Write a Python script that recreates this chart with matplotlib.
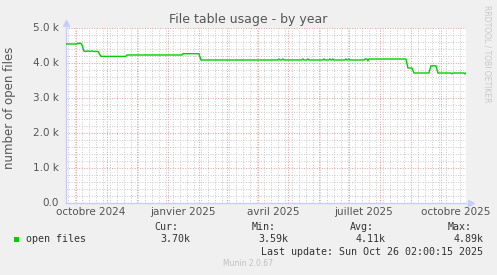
import matplotlib
matplotlib.use('Agg')
import matplotlib.pyplot as plt
from matplotlib.patches import Rectangle
import pandas as pd

# --- data (breakpoints of the daily series) ---
dates = ['2024-09-21', '2024-10-02', '2024-10-03', '2024-10-04', '2024-10-05', '2024-10-06',
         '2024-10-07', '2024-10-09', '2024-10-11', '2024-10-13', '2024-10-15', '2024-10-17',
         '2024-10-19', '2024-10-23', '2024-10-26', '2024-11-20', '2024-11-21', '2025-01-15',
         '2025-01-16', '2025-02-01', '2025-02-03',
         '2025-04-21', '2025-04-22', '2025-04-23',
         '2025-04-25', '2025-04-26', '2025-04-27',
         '2025-05-15', '2025-05-16', '2025-05-17',
         '2025-05-20', '2025-05-21', '2025-05-22',
         '2025-06-05', '2025-06-06', '2025-06-07',
         '2025-06-11', '2025-06-12', '2025-06-13',
         '2025-06-14', '2025-06-15', '2025-06-16',
         '2025-06-27', '2025-06-28', '2025-06-29',
         '2025-06-30', '2025-07-01', '2025-07-02',
         '2025-07-16', '2025-07-17', '2025-07-19', '2025-07-20', '2025-07-21',
         '2025-08-27', '2025-08-29', '2025-09-02', '2025-09-04', '2025-09-19', '2025-09-21',
         '2025-09-26', '2025-09-28', '2025-10-11', '2025-10-12', '2025-10-13',
         '2025-10-24', '2025-10-25', '2025-10-26']
open_files = [4543, 4543, 4570, 4550, 4570, 4560,
              4520, 4340, 4330, 4345, 4330, 4345,
              4330, 4331, 4189, 4189, 4229, 4229,
              4266, 4266, 4086,
              4086, 4115, 4086,
              4086, 4115, 4086,
              4086, 4115, 4086,
              4086, 4115, 4086,
              4086, 4115, 4086,
              4086, 4115, 4086,
              4086, 4115, 4086,
              4086, 4115, 4086,
              4086, 4115, 4086,
              4086, 4114, 4114, 4060, 4114,
              4114, 3857, 3857, 3714, 3714, 3920,
              3920, 3714, 3714, 3690, 3714,
              3714, 3690, 3714]

label_months = ['2024-10-01', '2025-01-01', '2025-04-01', '2025-07-01', '2025-10-01']
label_text = ['octobre 2024', 'janvier 2025', 'avril 2025', 'juillet 2025', 'octobre 2025']
y_ticks = [0, 1000, 2000, 3000, 4000, 5000]
y_labels = ['0.0', '1.0 k', '2.0 k', '3.0 k', '4.0 k', '5.0 k']

stat_names = ['Cur:', 'Min:', 'Avg:', 'Max:']
stat_values = ['3.70k', '3.59k', '4.11k', '4.89k']

W, H = 497, 275
BG = '#F0F0F0'
TXT = '#555555'


def px(x, y):
    return x / W, 1 - y / H


fig = plt.figure(figsize=(W / 100, H / 100), dpi=100, facecolor=BG)
ax = fig.add_axes([66 / W, 1 - 203 / H, 400 / W, 175 / H])
ax.set_facecolor('white')

t = pd.to_datetime(dates)
ax.plot(t, open_files, color='#00CC00', linewidth=1.0, zorder=5)

ax.set_xlim(pd.Timestamp('2024-09-21 02:00'), pd.Timestamp('2025-10-26 02:00'))
ax.set_ylim(0, 5000)

# grid: red dotted major, grey dotted minor
month_starts = pd.date_range('2024-10-01', '2025-10-01', freq='MS')
weeks = pd.date_range('2024-09-23', '2025-10-26', freq='W-MON')
ax.set_xticks(month_starts)
ax.set_xticks(weeks, minor=True)
ax.set_yticks(y_ticks)
ax.set_yticks(range(0, 5001, 200), minor=True)
ax.grid(which='minor', color='#C8C8C8', linestyle=(0, (1, 1.6)), linewidth=0.7)
ax.grid(which='major', color='#E29A9A', linestyle=(0, (1, 1.6)), linewidth=0.7)
ax.set_axisbelow(True)
ax.tick_params(which='both', length=0, labelbottom=False, labelleft=False)

for s in ['top', 'right']:
    ax.spines[s].set_visible(False)
for s in ['left', 'bottom']:
    ax.spines[s].set_color('#C8CCF8')
    ax.spines[s].set_linewidth(1.0)
ax.plot([1.012], [0], marker='>', color='#C8CCF8', markersize=4, transform=ax.transAxes, clip_on=False)
ax.plot([0], [1.03], marker='^', color='#C8CCF8', markersize=4, transform=ax.transAxes, clip_on=False)

# tick labels
for v, lab in zip(y_ticks, y_labels):
    ax.annotate(lab, xy=(0, v), xycoords=('axes fraction', 'data'), xytext=(-7, 0),
                textcoords='offset pixels', ha='right', va='center', fontsize=7.5, color=TXT)
for d, lab in zip(label_months, label_text):
    ax.annotate(lab, xy=(pd.Timestamp(d) + pd.Timedelta(days=15), 0),
                xycoords=('data', 'axes fraction'), xytext=(0, -4), textcoords='offset pixels',
                ha='center', va='top', fontsize=7.5, color=TXT)

# titles
fig.text(*px(248, 19), 'File table usage - by year', ha='center', va='center', fontsize=9, color=TXT)
fig.text(*px(10, 108), 'number of open files', rotation=90, ha='center', va='center',
         fontsize=8.5, color=TXT)
fig.text(*px(487, 5), 'RRDTOOL / TOBI OETIKER', rotation=270, ha='center', va='top',
         fontsize=5.5, color='#C8C8C8')

# legend
fig.patches.append(Rectangle(px(14, 242), 5 / W, 5 / H, transform=fig.transFigure,
                             facecolor='#00CC00', edgecolor='none'))
mono = dict(family='DejaVu Sans Mono', fontsize=7.2, color='#333333', va='center')
fig.text(*px(26, 239), 'open files', ha='left', **mono)
for i, (name, val) in enumerate(zip(stat_names, stat_values)):
    x0 = 154 + i * 98
    fig.text(*px(x0, 227), name, ha='left', **mono)
    fig.text(*px(x0 + 36, 239), val, ha='right', **mono)
fig.text(*px(483, 252), 'Last update: Sun Oct 26 02:00:15 2025', ha='right', **mono)
fig.text(*px(248, 263), 'Munin 2.0.67', ha='center', va='center', fontsize=5.5, color='#C0C0C0')

fig.savefig('out.png', dpi=100, facecolor=BG)
